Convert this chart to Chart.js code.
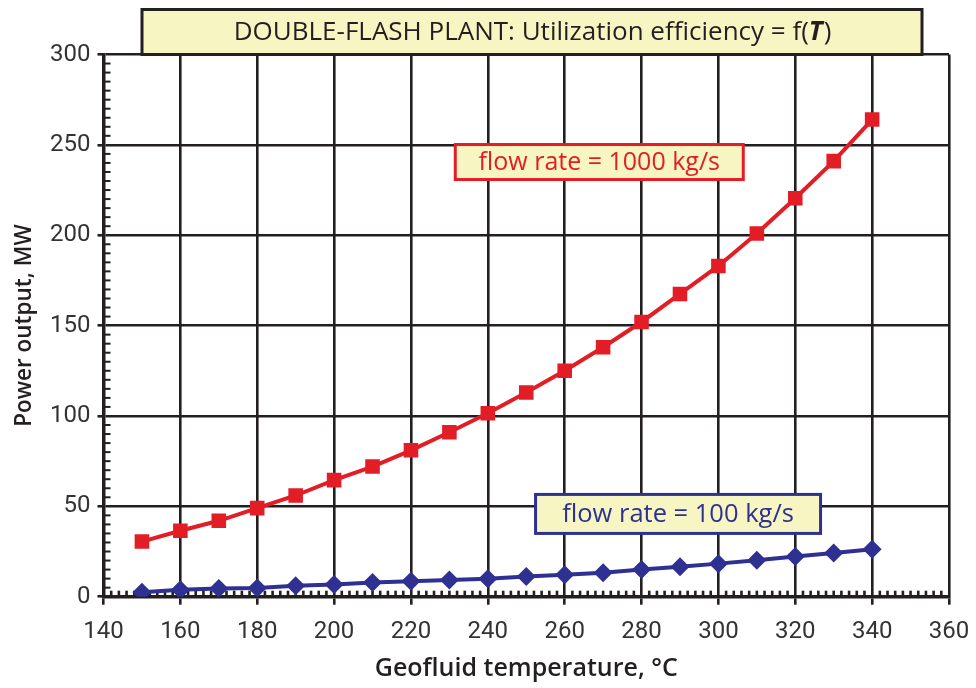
<!DOCTYPE html>
<html>
<head>
<meta charset="utf-8">
<title>Double-flash plant</title>
<script src="https://cdn.jsdelivr.net/npm/chart.js@4.4.1/dist/chart.umd.min.js"></script>
<style>
  html, body { margin: 0; padding: 0; background: #fff; }
  #wrap { width: 976px; height: 688px; position: relative; }
</style>
</head>
<body>
<div id="wrap"><canvas id="plant"></canvas></div>
<script>
// geofluid temperature, degC
const temperatures = [150, 160, 170, 180, 190, 200, 210, 220, 230, 240, 250, 260, 270, 280, 290, 300, 310, 320, 330, 340];
// power output, MW
const power1000 = [30.5, 36.5, 42, 49, 56, 64.5, 72, 81, 91, 101.5, 113, 125, 138, 152, 167.5, 183, 201, 220.5, 241, 264];
const power100 = [2.5, 3.8, 4.6, 4.8, 6, 6.8, 7.8, 8.5, 9.2, 10, 11.2, 12.2, 13.3, 15, 16.6, 18.3, 20.2, 22.3, 24.2, 26.2];

const seriesLabels = ['flow rate = 1000 kg/s', 'flow rate = 100 kg/s'];
const xRange = [140, 360];
const yRange = [0, 300];

const INK = '#231f20';
const RED = '#e31d25';
const BLUE = '#2e3192';
const CREAM = '#f7f5c2';
const NUM_FONT = 'Roboto, "Liberation Sans", sans-serif';
const TEXT_FONT = '"Open Sans", "Noto Sans", sans-serif';

Chart.defaults.font.family = NUM_FONT;
Chart.defaults.color = INK;

// small inner ticks: every 2 degC along the bottom, every 5 MW up the left side
const minorTicks = {
  id: 'minorTicks',
  beforeDatasetsDraw(chart) {
    const { ctx, scales: { x, y }, chartArea: a } = chart;
    ctx.save();
    ctx.fillStyle = INK;
    for (let t = xRange[0] + 2; t < xRange[1]; t += 2) {
      if (t % 20 === 0) continue;
      const px = x.getPixelForValue(t);
      ctx.fillRect(px - 1.3, a.bottom - 6, 2.6, 6);
    }
    for (let v = yRange[0] + 5; v < yRange[1]; v += 5) {
      if (v % 50 === 0) continue;
      const py = y.getPixelForValue(v);
      ctx.fillRect(a.left, py - 1, 7, 2);
    }
    ctx.restore();
  }
};

function drawBox(ctx, left, top, w, h, stroke, lw) {
  ctx.fillStyle = CREAM;
  ctx.fillRect(left, top, w, h);
  ctx.strokeStyle = stroke;
  ctx.lineWidth = lw;
  ctx.strokeRect(left, top, w, h);
}

// heading box sitting on the top edge of the plot, plus the two series tags
const annotations = {
  id: 'annotations',
  afterDraw(chart) {
    const { ctx, chartArea: a, scales: { x, y } } = chart;
    ctx.save();

    // heading
    const hl = 142, hr = 922, ht = 9.5;
    drawBox(ctx, hl, ht, hr - hl, a.top - ht, INK, 3);
    const partA = 'DOUBLE-FLASH PLANT: Utilization efficiency = f(';
    const partB = 'T';
    const partC = ')';
    const normal = '26px ' + TEXT_FONT;
    const bold = 'italic bold 26px ' + TEXT_FONT;
    ctx.font = normal;
    const wA = ctx.measureText(partA).width;
    const wC = ctx.measureText(partC).width;
    ctx.font = bold;
    const wB = ctx.measureText(partB).width;
    let tx = (hl + hr) / 2 - (wA + wB + wC) / 2;
    const ty = (ht + a.top) / 2 + 1;
    ctx.fillStyle = INK;
    ctx.textBaseline = 'middle';
    ctx.textAlign = 'left';
    ctx.font = normal;
    ctx.fillText(partA, tx, ty);
    tx += wA;
    ctx.font = bold;
    ctx.fillText(partB, tx, ty);
    tx += wB + 1;
    ctx.font = normal;
    ctx.fillText(partC, tx, ty);

    // series tags, centred on a point in data units
    const tags = [
      { text: seriesLabels[0], at: [269, 240.5], w: 288, h: 35, color: RED, size: 25 },
      { text: seriesLabels[1], at: [289.5, 45.8], w: 285, h: 39, color: BLUE, size: 25.5 }
    ];
    tags.forEach(t => {
      const cx = x.getPixelForValue(t.at[0]);
      const cy = y.getPixelForValue(t.at[1]);
      drawBox(ctx, cx - t.w / 2, cy - t.h / 2, t.w, t.h, t.color, 3);
      ctx.fillStyle = t.color;
      ctx.font = t.size + 'px ' + TEXT_FONT;
      ctx.textAlign = 'center';
      ctx.fillText(t.text, cx, cy + 1);
    });
    ctx.restore();
  }
};

const toPoints = vals => temperatures.map((t, i) => ({ x: t, y: vals[i] }));

new Chart(document.getElementById('plant'), {
  type: 'line',
  data: {
    datasets: [
      {
        label: seriesLabels[0],
        data: toPoints(power1000),
        borderColor: RED,
        backgroundColor: RED,
        borderWidth: 4,
        pointStyle: 'rect',
        pointRadius: 10.3,
        pointBorderWidth: 0,
        tension: 0
      },
      {
        label: seriesLabels[1],
        data: toPoints(power100),
        borderColor: BLUE,
        backgroundColor: BLUE,
        borderWidth: 4,
        pointStyle: 'rectRot',
        pointRadius: 9.5,
        pointBorderWidth: 0,
        tension: 0
      }
    ]
  },
  options: {
    responsive: true,
    maintainAspectRatio: false,
    animation: false,
    layout: { padding: { left: 0, right: 27, top: 54.5, bottom: 0 } },
    plugins: { legend: { display: false }, tooltip: { enabled: false } },
    scales: {
      x: {
        type: 'linear',
        min: xRange[0],
        max: xRange[1],
        ticks: { stepSize: 20, padding: 13, color: '#333', font: { size: 24 } },
        grid: { color: INK, lineWidth: 2.6, tickLength: 8, tickWidth: 2.6 },
        border: { color: INK, width: 3.5 },
        title: {
          display: true,
          text: 'Geofluid temperature, °C',
          font: { family: TEXT_FONT, size: 25, weight: '600' },
          padding: { top: 0, bottom: 4 }
        },
        afterFit(scale) {
          scale.height = 91.3;
          scale.paddingLeft = 0;
          scale.paddingRight = 0;
        }
      },
      y: {
        min: yRange[0],
        max: yRange[1],
        ticks: { stepSize: 50, padding: 7, color: '#333', font: { size: 24 } },
        grid: { color: INK, lineWidth: 2.6, tickLength: 6, tickWidth: 2.6 },
        border: { color: INK, width: 3.5 },
        title: {
          display: true,
          text: 'Power output, MW',
          font: { family: TEXT_FONT, size: 22.5, weight: '600' },
          padding: { top: 11, bottom: 0 }
        },
        afterFit(scale) { scale.width = 103.5; }
      }
    }
  },
  plugins: [minorTicks, annotations]
});
</script>
</body>
</html>
